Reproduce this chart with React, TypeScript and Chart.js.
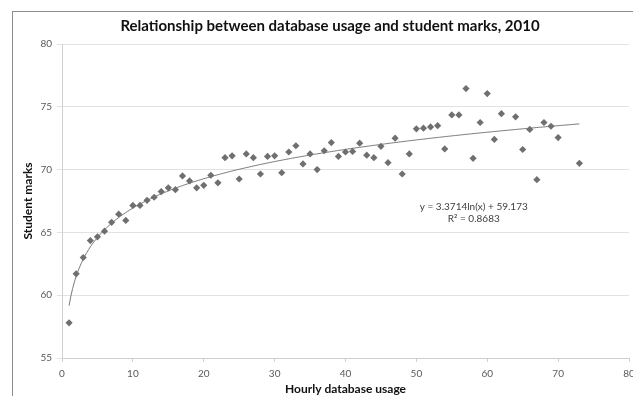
import { useEffect, useRef } from "react";
import { Chart, registerables } from "chart.js";

Chart.register(...registerables);

// Hours of database use per hour-bucket and the average mark of those students
const usageHours = [
  1, 2, 3, 4, 5, 6, 7, 8, 9, 10,
  11, 12, 13, 14, 15, 16, 17, 18, 19, 20,
  21, 22, 23, 24, 25, 26, 27, 28, 29, 30,
  31, 32, 33, 34, 35, 36, 37, 38, 39, 40,
  41, 42, 43, 44, 45, 46, 47, 48, 49, 50,
  51, 52, 53, 54, 55, 56, 57, 58, 59, 60,
  61, 62, 64, 65, 66, 67, 68, 69, 70, 73,
];

const studentMarks = [
  57.8, 61.7, 63.0, 64.35, 64.65, 65.1, 65.8, 66.45, 65.95, 67.15,
  67.15, 67.55, 67.8, 68.25, 68.55, 68.4, 69.5, 69.1, 68.55, 68.75,
  69.55, 68.95, 70.95, 71.1, 69.25, 71.25, 70.95, 69.65, 71.05, 71.1,
  69.75, 71.4, 71.9, 70.45, 71.25, 70.0, 71.5, 72.15, 71.05, 71.4,
  71.45, 72.1, 71.15, 70.95, 71.85, 70.55, 72.5, 69.65, 71.25, 73.25,
  73.3, 73.4, 73.5, 71.65, 74.35, 74.35, 76.45, 70.9, 73.75, 76.05,
  72.4, 74.45, 74.2, 71.6, 73.2, 69.2, 73.75, 73.45, 72.55, 70.5,
];

// Logarithmic trendline: y = a ln(x) + b
const trendSlope = 3.3714;
const trendIntercept = 59.173;
const trendR2 = 0.8683;

const xRange = [0, 80];
const xStep = 10;
const yRange = [55, 80];
const yStep = 5;

const chartTitle = "Relationship between database usage and student marks, 2010";
const xAxisTitle = "Hourly database usage";
const yAxisTitle = "Student marks";

const FONT = "Lato, 'Open Sans', sans-serif";

function trendPoints() {
  const first = usageHours[0];
  const last = usageHours[usageHours.length - 1];
  const pts: { x: number; y: number }[] = [];
  for (let x = first; x <= last + 1e-9; x += 0.25) {
    pts.push({ x, y: trendSlope * Math.log(x) + trendIntercept });
  }
  return pts;
}

const decorations = {
  id: "decorations",
  beforeDraw(chart: Chart) {
    const { ctx, width, height } = chart;
    ctx.save();
    ctx.fillStyle = "#ffffff";
    ctx.fillRect(0, 0, width, height);
    ctx.strokeStyle = "#8c8c8c";
    ctx.lineWidth = 1;
    ctx.strokeRect(12.5, 11.5, width + 40, height + 40);
    ctx.restore();
  },
  afterDraw(chart: Chart) {
    const { ctx } = chart;
    const xs = chart.scales.x;
    const ys = chart.scales.y;
    ctx.save();
    ctx.textAlign = "center";
    ctx.textBaseline = "middle";

    ctx.fillStyle = "#111111";
    ctx.font = `bold 15px ${FONT}`;
    ctx.fillText(chartTitle, 330, 26);

    ctx.fillStyle = "#404040";
    ctx.font = `10px ${FONT}`;
    const ex = xs.getPixelForValue(58.1);
    const ey = ys.getPixelForValue(67.0);
    ctx.fillText(`y = ${trendSlope}ln(x) + ${trendIntercept}`, ex, ey);
    ctx.fillText(`R² = ${trendR2}`, ex, ey + 12);
    ctx.restore();
  },
};

export default function App() {
  const canvasRef = useRef<HTMLCanvasElement | null>(null);

  useEffect(() => {
    document.body.style.margin = "0";
    document.body.style.overflow = "hidden";
    const canvas = canvasRef.current;
    if (!canvas) return;

    const chart = new Chart(canvas, {
      type: "scatter",
      data: {
        datasets: [
          {
            label: "Student marks",
            data: usageHours.map((x, i) => ({ x, y: studentMarks[i] })),
            pointStyle: "rectRot",
            pointRadius: 3.6,
            pointBackgroundColor: "#6f6f6f",
            pointBorderColor: "#6f6f6f",
            pointBorderWidth: 0,
            showLine: false,
          },
          {
            label: "Trend",
            type: "line",
            data: trendPoints(),
            borderColor: "#7a7a7a",
            borderWidth: 1,
            pointRadius: 0,
            tension: 0,
            fill: false,
          },
        ],
      },
      options: {
        animation: false,
        responsive: false,
        devicePixelRatio: 1,
        layout: { padding: { top: 44, right: 4, left: 0, bottom: 0 } },
        plugins: {
          legend: { display: false },
          title: { display: false },
          tooltip: { enabled: false },
        },
        scales: {
          x: {
            type: "linear",
            min: xRange[0],
            max: xRange[1],
            ticks: {
              stepSize: xStep,
              color: "#595959",
              font: { family: FONT, size: 10 },
              padding: 6,
              maxRotation: 0,
            },
            grid: { drawOnChartArea: false, drawTicks: true, tickLength: 4, color: "#d0d0d0" },
            border: { color: "#cfcfcf" },
            title: {
              display: true,
              text: xAxisTitle,
              color: "#111111",
              font: { family: FONT, size: 12, weight: "bold" },
              padding: { top: 0, bottom: 0 },
            },
            afterFit: (s: any) => {
              s.height = 38;
              s.paddingLeft = 0;
              s.paddingRight = 0;
            },
          },
          y: {
            min: yRange[0],
            max: yRange[1],
            ticks: {
              stepSize: yStep,
              color: "#595959",
              font: { family: FONT, size: 10 },
              padding: 5,
            },
            grid: { color: "#e2e2e2", tickLength: 5 },
            border: { color: "#cfcfcf" },
            title: {
              display: true,
              text: yAxisTitle,
              color: "#111111",
              font: { family: FONT, size: 12, weight: "bold" },
              padding: { top: 21, bottom: 0 },
            },
            afterFit: (s: any) => {
              s.width = 62;
              s.paddingTop = 0;
              s.paddingBottom = 0;
            },
          },
        },
      },
      plugins: [decorations],
    });

    return () => chart.destroy();
  }, []);

  return (
    <div style={{ width: 633, height: 396, position: "relative", overflow: "hidden" }}>
      <canvas ref={canvasRef} width={633} height={396} style={{ display: "block", width: 633, height: 396 }} />
    </div>
  );
}
